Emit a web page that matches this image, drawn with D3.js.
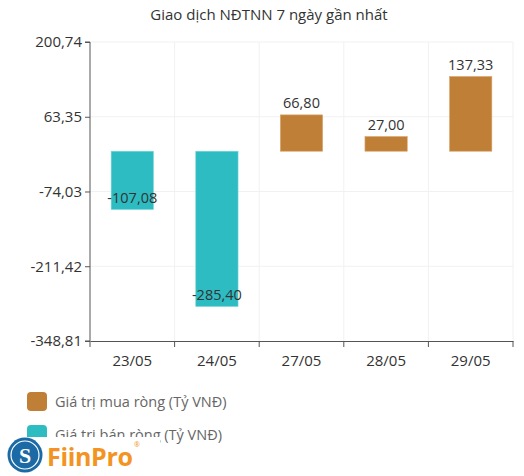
<!DOCTYPE html>
<html>
<head>
<meta charset="utf-8">
<script src="https://cdn.jsdelivr.net/npm/d3@7"></script>
<style>
  body { margin: 0; background: #fff; }
  svg { font-family: "Open Sans", "Noto Sans", sans-serif; }
</style>
</head>
<body>
<div id="chart"></div>
<script>
// data
const days = ['23/05', '24/05', '27/05', '28/05', '29/05'];
const netValues = [-107.08, -285.40, 66.80, 27.00, 137.33];
const yTicks = [200.74, 63.35, -74.03, -211.42, -348.81];
const legendLabels = ['Giá trị mua ròng (Tỷ VNĐ)', 'Giá trị bán ròng (Tỷ VNĐ)'];

const width = 524, height = 476;
const margin = { top: 42, right: 11, bottom: 135, left: 90 };
const innerW = width - margin.left - margin.right;
const innerH = height - margin.top - margin.bottom;
const COLORS = { buy: '#c07f37', sell: '#2dbcc2', grid: '#f1f1f1', axis: '#555' };
const FONT = '"Open Sans", "Noto Sans", sans-serif';

const fmt = v => d3.format('.2f')(v).replace('.', ',').replace('\u2212', '-');

const svg = d3.select('#chart').append('svg')
  .attr('width', width)
  .attr('height', height);

svg.append('text')
  .attr('x', width / 2 + 7)
  .attr('y', 20)
  .attr('text-anchor', 'middle')
  .attr('font-size', 15)
  .attr('fill', '#333')
  .text('Giao dịch NĐTNN 7 ngày gần nhất');

const g = svg.append('g')
  .attr('transform', `translate(${margin.left},${margin.top})`);

const x = d3.scaleBand().domain(days).range([0, innerW]).paddingInner(0).paddingOuter(0);
const y = d3.scaleLinear().domain([yTicks[yTicks.length - 1], yTicks[0]]).range([innerH, 0]);

// grid
g.selectAll('.hgrid')
  .data(yTicks.slice(0, -1))
  .join('line')
  .attr('x1', 0).attr('x2', innerW)
  .attr('y1', d => y(d)).attr('y2', d => y(d))
  .attr('stroke', COLORS.grid);

g.selectAll('.vgrid')
  .data(days)
  .join('line')
  .attr('x1', d => x(d) + x.bandwidth()).attr('x2', d => x(d) + x.bandwidth())
  .attr('y1', 0).attr('y2', innerH)
  .attr('stroke', COLORS.grid);

// bars
const barW = x.bandwidth() * 0.5;
g.selectAll('.bar')
  .data(netValues)
  .join('rect')
  .attr('x', (d, i) => x(days[i]) + (x.bandwidth() - barW) / 2)
  .attr('width', barW)
  .attr('y', d => y(Math.max(0, d)))
  .attr('height', d => Math.abs(y(d) - y(0)))
  .attr('fill', d => d >= 0 ? COLORS.buy : COLORS.sell)
  .attr('stroke', d => d >= 0 ? '#d9a66c' : '#7fd6d9')
  .attr('stroke-width', 0.6);

// value labels
g.selectAll('.val')
  .data(netValues)
  .join('text')
  .attr('x', (d, i) => x(days[i]) + x.bandwidth() / 2)
  .attr('y', d => d >= 0 ? y(d) - 7 : y(d) - 6)
  .attr('text-anchor', 'middle')
  .attr('font-size', 14.5)
  .attr('fill', '#333')
  .text(d => fmt(d));

// axes
const yAxis = g.append('g')
  .call(d3.axisLeft(y).tickValues(yTicks).tickSize(5).tickFormat(fmt));
yAxis.select('.domain').attr('stroke', COLORS.axis).attr('d', `M-5,0H0V${innerH}H-5`);
yAxis.selectAll('.tick line').attr('stroke', COLORS.axis);
yAxis.selectAll('.tick text').attr('font-size', 15).attr('fill', '#333')
  .attr('font-family', FONT).attr('x', -8);

const xAxis = g.append('g')
  .attr('transform', `translate(0,${innerH})`)
  .call(d3.axisBottom(x).tickSize(0));
xAxis.select('.domain').attr('stroke', COLORS.axis);
xAxis.selectAll('.tick text').attr('font-size', 15).attr('fill', '#333')
  .attr('font-family', FONT).attr('dy', '1.45em');
xAxis.selectAll('.edge')
  .data(d3.range(days.length + 1))
  .join('line')
  .attr('x1', i => i * x.step()).attr('x2', i => i * x.step())
  .attr('y1', 0).attr('y2', 6)
  .attr('stroke', COLORS.axis);

// legend (second item is partly hidden behind the logo)
const legend = svg.selectAll('.legend')
  .data(legendLabels)
  .join('g')
  .attr('transform', (d, i) => `translate(27,${392 + i * 33})`);
legend.append('rect')
  .attr('width', 20).attr('height', 19).attr('rx', 4)
  .attr('fill', (d, i) => i === 0 ? COLORS.buy : COLORS.sell);
legend.append('text')
  .attr('x', 28).attr('y', 15)
  .attr('font-size', 14.5)
  .attr('fill', '#666')
  .text(d => d);

// FiinPro logo overlay
const logo = svg.append('g');
logo.append('rect').attr('x', 0).attr('y', 437).attr('width', 160).attr('height', 39).attr('fill', '#fff');
logo.append('circle').attr('cx', 25).attr('cy', 455).attr('r', 17.5).attr('fill', '#1b6aa5');
logo.append('circle').attr('cx', 25).attr('cy', 455).attr('r', 14).attr('fill', 'none')
  .attr('stroke', '#fff').attr('stroke-width', 1.2);
logo.append('text').attr('x', 25).attr('y', 463).attr('text-anchor', 'middle')
  .attr('font-size', 22).attr('font-weight', 'bold').attr('font-family', 'serif')
  .attr('fill', '#fff').text('S');
logo.append('text').attr('x', 47).attr('y', 466)
  .attr('font-size', 25).attr('font-weight', 'bold')
  .attr('font-family', FONT)
  .attr('textLength', 86)
  .attr('fill', '#f39422').text('FiinPro');
logo.append('text').attr('x', 134).attr('y', 447)
  .attr('font-size', 7).attr('fill', '#f39422').text('®');
</script>
</body>
</html>
